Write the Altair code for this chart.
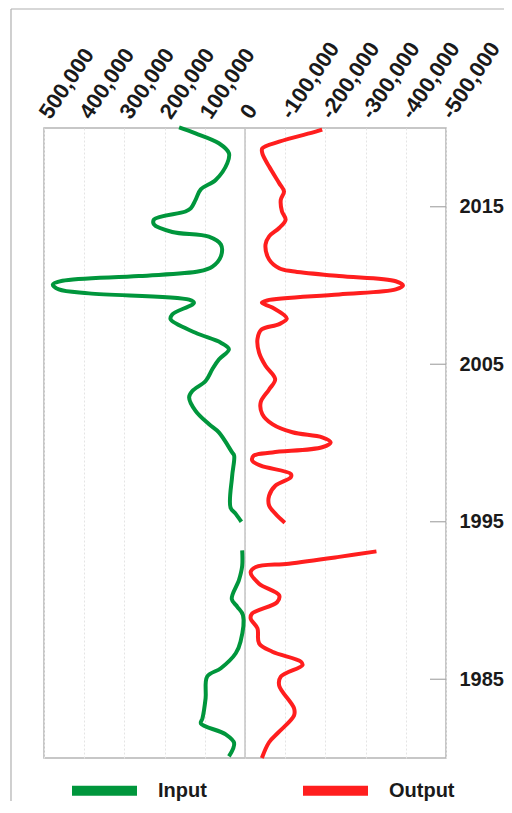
import altair as alt
import pandas as pd

# ---- data (None marks the gap in the record) ----
input_years = [1980.1, 1980.95, 1981.5, 1982.2, 1982.5, 1983.8, 1985.17, 1985.7, 1986.65,
               1987.4, 1989.07, 1989.6, 1990.1, 1991.3, 1992.2, 1993.18,
               1994.0,
               1995.0, 1995.5, 1995.9, 1997.9, 1999.2, 1999.4, 2000.67, 2001.2, 2002.04,
               2002.9, 2003.3, 2003.94, 2004.7, 2005.3, 2005.95, 2006.37, 2007.0, 2007.85,
               2008.16, 2008.9, 2009.1, 2009.5, 2009.75, 2010.06, 2010.3, 2010.6, 2010.9,
               2011.2, 2011.85, 2012.6, 2013.1, 2013.4, 2013.86, 2014.2, 2014.7, 2014.9,
               2015.44, 2016.1, 2016.7, 2017.77, 2018.4, 2019.03, 2019.66, 2020.04]
input_values = [40000, 27000, 48000, 110000, 106000, 98000, 94000, 60000, 23000,
                11000, 5000, 19000, 33000, 15000, 7000, 7000,
                None,
                9000, 23000, 36000, 32000, 27000, 32000, 65000, 90000, 123000,
                139000, 131000, 98000, 81000, 65000, 40000, 60000, 123000, 185000,
                181000, 127000, 139000, 388000, 463000, 478000, 454000, 264000, 114000,
                81000, 60000, 60000, 90000, 181000, 226000, 226000, 148000, 135000,
                123000, 110000, 73000, 44000, 40000, 65000, 123000, 164000]

output_years = [1980.0, 1981.0, 1981.67, 1982.7, 1983.16, 1984.6, 1985.17, 1985.9, 1986.12,
                1986.75, 1987.28, 1988.23, 1988.86, 1989.18, 1989.9, 1990.33, 1991.07,
                1991.8, 1992.13, 1992.34, 1992.77, 1993.12,
                1994.0,
                1994.94, 1995.5, 1996.03, 1996.66, 1997.3, 1997.83, 1998.04, 1998.56,
                1998.88, 1999.2, 1999.4, 1999.73, 2000.04, 2000.36, 2000.68, 2001.2,
                2001.84, 2002.58, 2003.4, 2004.05, 2004.9, 2005.74, 2006.6, 2007.2,
                2007.55, 2007.9, 2008.6, 2008.9, 2009.05, 2009.43, 2009.75, 2010.0,
                2010.27, 2010.6, 2010.9, 2011.1, 2011.65, 2012.6, 2013.12, 2013.65,
                2014.18, 2014.7, 2015.44, 2015.97, 2016.5, 2017.55, 2018.4, 2018.7,
                2019.13, 2019.77, 2019.9]
output_values = [-42000, -60000, -85000, -122000, -122000, -85000, -89000, -143000, -139000,
                 -68000, -35000, -31000, -14000, -18000, -80000, -85000, -35000,
                 -14000, -27000, -109000, -234000, -327000,
                 None,
                 -99000, -76000, -60000, -60000, -76000, -114000, -114000, -39000,
                 -18000, -22000, -68000, -192000, -213000, -192000, -118000, -68000,
                 -43000, -39000, -60000, -75000, -51000, -35000, -31000, -41000,
                 -85000, -104000, -68000, -42000, -55000, -234000, -375000, -393000,
                 -375000, -234000, -118000, -85000, -60000, -51000, -60000, -85000,
                 -101000, -92000, -89000, -97000, -85000, -60000, -43000, -43000,
                 -85000, -176000, -192000]

series_names = ["Input", "Output"]
series_colors = ["#00963C", "#FF1E1E"]
x_ticks = [500000, 400000, 300000, 200000, 100000, 0,
           -100000, -200000, -300000, -400000, -500000]
year_ticks = [1985, 1995, 2005, 2015]


def build(name, years, values):
    rows, seg = [], 0
    for y, v in zip(years, values):
        if v is None:
            seg += 1
            continue
        rows.append({"series": name, "seg": f"{name}-{seg}", "year": y, "value": v})
    return rows


df = pd.DataFrame(build("Input", input_years, input_values)
                  + build("Output", output_years, output_values))
zero_df = pd.DataFrame({"value": [0]})
tick_df = pd.DataFrame({"year": year_ticks})
frame_df = pd.DataFrame({"k": [0]})

xscale = alt.Scale(domain=[-500000, 500000], reverse=True, nice=False, zero=False)
yscale = alt.Scale(domain=[1980, 2020], nice=False, zero=False)

zero_line = alt.Chart(zero_df).mark_rule(color="#c4c4c4", strokeWidth=1.5).encode(
    x=alt.X("value:Q", scale=xscale, title=None)
)

lines = alt.Chart(df).mark_line(strokeWidth=4, interpolate="catmull-rom").encode(
    x=alt.X("value:Q", scale=xscale, title=None,
            axis=alt.Axis(orient="top", values=x_ticks, ticks=False, domain=False,
                          grid=True, gridColor="#e4e4e4", gridDash=[2, 2],
                          labelAngle=304, labelAlign="left", labelBaseline="middle",
                          labelFontSize=22, labelFontWeight="bold", labelColor="#1a1a1a",
                          labelPadding=12, labelOverlap=False,
                          labelExpr="replace(format(datum.value, ','), '\u2212', '-')")),
    y=alt.Y("year:Q", scale=yscale, title=None,
            axis=alt.Axis(orient="right", values=year_ticks, ticks=False, domain=False,
                          grid=False, format="d", labelFontSize=20, labelFontWeight="bold",
                          labelColor="#1a1a1a", labelPadding=13)),
    color=alt.Color("series:N", scale=alt.Scale(domain=series_names, range=series_colors),
                    legend=alt.Legend(title=None, orient="none", legendX=23, legendY=625,
                                      direction="horizontal", symbolType="stroke",
                                      symbolSize=4225, symbolStrokeWidth=10,
                                      labelFontSize=20, labelFontWeight="bold",
                                      labelColor="#1a1a1a", labelOffset=16,
                                      columnPadding=76)),
    detail="seg:N",
    order="year:Q",
)

year_marks = alt.Chart(tick_df).mark_rule(color="#a8a8a8", strokeWidth=1.2).encode(
    y=alt.Y("year:Q", scale=yscale, title=None),
    x=alt.value(386), x2=alt.value(402),
)

frame_top = alt.Chart(frame_df).mark_rule(color="#b0b0b0", strokeWidth=1.2).encode(
    x=alt.value(-33), x2=alt.value(470), y=alt.value(-119)
)
frame_left = alt.Chart(frame_df).mark_rule(color="#b0b0b0", strokeWidth=1.2).encode(
    x=alt.value(-33), y=alt.value(-119), y2=alt.value(680)
)

chart = alt.layer(zero_line, lines, year_marks, frame_top, frame_left).properties(
    width=402, height=630,
    autosize=alt.AutoSizeParams(type="none"),
    padding={"left": 36, "top": 120, "right": 58, "bottom": 43},
).configure(font="Liberation Sans").configure_view(stroke="#b5b5b5", strokeWidth=1.5)

chart.save("out.html", embed_options={"renderer": "svg", "actions": False})
